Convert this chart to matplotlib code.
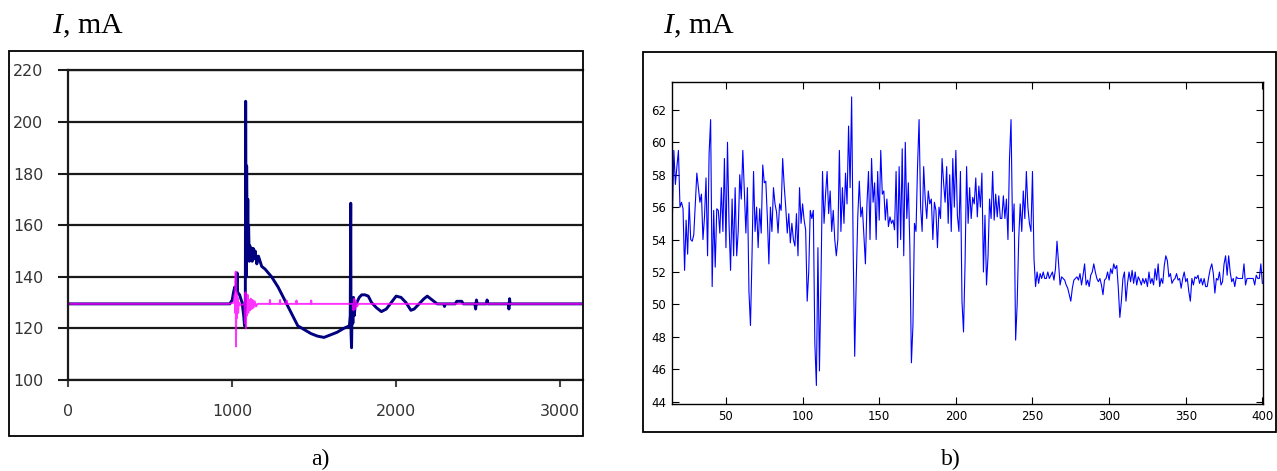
import matplotlib
matplotlib.use("Agg")
import matplotlib.pyplot as plt
from matplotlib.patches import Rectangle
import numpy as np

plt.rcParams['mathtext.fontset'] = 'custom'
plt.rcParams['mathtext.it'] = 'Liberation Serif:italic'
plt.rcParams['mathtext.rm'] = 'Liberation Serif'

# ---------------- data: panel a) ----------------
a_yticks = [100, 120, 140, 160, 180, 200, 220]
a_xticks = [0, 1000, 2000, 3000]

navy_x = [0, 985, 1000, 1008, 1015, 1025, 1030, 1033, 1045, 1060, 1070, 1075, 1080,
          1082, 1085, 1088, 1092, 1095, 1098, 1100, 1104, 1108, 1112, 1116, 1122,
          1128, 1135, 1140, 1150, 1160, 1170, 1180, 1200, 1240, 1280, 1320, 1360,
          1400, 1440, 1480, 1520, 1560, 1600, 1640, 1680, 1715, 1720, 1723, 1725,
          1728, 1732, 1736, 1740, 1745, 1750, 1760, 1775, 1790, 1810, 1830, 1850,
          1880, 1910, 1940, 1970, 2000, 2030, 2060, 2090, 2110, 2140, 2170, 2190,
          2220, 2250, 2290, 2295, 2300, 2360, 2370, 2400, 2410, 2480, 2485, 2490,
          2495, 2550, 2555, 2560, 2685, 2688, 2692, 2695, 3140]
navy_y = [129.5, 129.5, 131, 134, 136, 135, 141.5, 134, 133, 130, 125, 121, 131,
          208, 140, 183, 150, 170, 148, 160, 146, 152, 147, 151, 146,
          151, 147, 150, 145, 148, 146, 144, 143, 140, 136, 131, 126,
          121, 119.5, 118, 117, 116.5, 117.5, 118.5, 120, 121, 125, 168.5, 118,
          112.5, 130, 122, 132, 125, 129, 130, 132, 133, 133, 132.5, 130,
          128, 126.5, 127.5, 130, 132.5, 132, 130, 127, 127.5, 129.5, 131.5, 132.5,
          131, 129.5, 129.5, 128.5, 129.5, 129.5, 130.5, 130.5, 129.5, 129.5, 127.5, 131,
          129.5, 129.5, 131, 129.5, 129.5, 127.5, 131.5, 129.5, 129.5]

mag_x = [0, 980, 1010, 1015, 1018, 1021, 1023, 1026, 1029, 1032, 1036, 1040, 1050,
         1075, 1078, 1081, 1084, 1087, 1090, 1094, 1098, 1103, 1108, 1113, 1118,
         1124, 1130, 1137, 1145, 1155, 1228, 1230, 1232, 1290, 1292, 1294, 1330,
         1332, 1334, 1390, 1392, 1394, 1480, 1482, 1484, 1735, 1740, 1745, 1750,
         1755, 1762, 1770, 3140]
mag_y = [129.5, 129.5, 130, 133, 126, 142, 113, 134, 124, 132, 126, 130, 129,
         129.5, 122, 134, 120, 132, 125, 133, 126, 131, 127, 131.5, 127.5,
         131, 128, 130.5, 128.5, 129.5, 129.5, 131, 129.5, 129.5, 131, 129.5, 129.5,
         130.8, 129.5, 129.5, 130.8, 129.5, 129.5, 130.8, 129.5, 129.5, 127, 131.5, 127.5,
         130.5, 128.5, 129.5, 129.5]

# ---------------- data: panel b) ----------------
b_x_start = 15
b_values = [
    55.2, 59.5, 57.4, 58.5, 59.5, 56.0, 56.3, 55.9, 52.1, 55.2,   # 15-24
    53.1, 56.3, 54.0, 53.9, 54.3, 56.2, 58.1, 57.2, 56.3, 56.8,   # 25-34
    54.0, 55.4, 57.8, 53.0, 59.3, 61.4, 51.1, 55.8, 52.3, 55.9,   # 35-44
    55.8, 54.4, 57.2, 54.5, 59.0, 53.5, 60.0, 55.0, 52.1, 56.5,   # 45-54
    53.0, 57.2, 53.0, 54.5, 58.0, 56.5, 59.5, 57.0, 54.4, 57.2,   # 55-64
    50.8, 48.7, 53.0, 58.2, 54.5, 56.0, 53.5, 55.9, 54.4, 58.6,   # 65-74
    57.5, 57.6, 55.4, 52.5, 56.0, 54.5, 57.2, 56.2, 55.7, 54.4,   # 75-84
    56.2, 55.8, 59.0, 57.3, 56.0, 54.4, 55.6, 53.8, 55.0, 54.0,   # 85-94
    53.6, 55.6, 53.0, 57.2, 55.0, 56.2, 55.2, 54.6, 50.2, 52.0,   # 95-104
    55.8, 55.3, 55.8, 47.6, 45.0, 53.5, 45.9, 51.5, 58.2, 55.0,   # 105-114
    56.8, 58.2, 55.6, 57.0, 54.5, 55.8, 54.0, 53.0, 54.0, 59.5,   # 115-124
    54.5, 57.2, 55.0, 58.1, 56.2, 61.0, 57.2, 62.8, 53.5, 46.8,   # 125-134
    51.5, 55.4, 57.6, 55.4, 56.0, 54.2, 52.5, 56.2, 58.2, 54.0,   # 135-144
    59.0, 56.3, 57.5, 54.0, 58.2, 55.2, 59.5, 56.8, 57.0, 55.2,   # 145-154
    56.5, 54.8, 55.4, 55.0, 55.2, 54.6, 58.2, 53.5, 58.5, 54.0,   # 155-164
    59.6, 53.0, 60.0, 55.3, 57.5, 53.5, 46.4, 48.7, 55.0, 54.5,   # 165-174
    58.5, 61.4, 56.0, 54.5, 58.5, 56.5, 55.3, 57.0, 56.2, 56.5,   # 175-184
    54.0, 56.3, 55.8, 53.5, 56.0, 55.3, 59.0, 57.5, 56.3, 58.5,   # 185-194
    55.0, 58.0, 54.5, 59.0, 56.0, 59.5, 55.5, 54.5, 58.2, 50.2,   # 195-204
    48.3, 52.5, 58.5, 55.0, 57.2, 55.3, 56.6, 56.2, 57.8, 55.4,   # 205-214
    57.3, 56.0, 58.1, 52.0, 55.5, 51.2, 53.0, 56.5, 55.3, 58.2,   # 215-224
    55.2, 56.8, 55.4, 56.7, 55.3, 55.3, 56.7, 55.3, 56.5, 54.0,   # 225-234
    59.0, 61.4, 54.5, 56.2, 47.8, 50.0, 54.0, 56.2, 54.5, 57.0,   # 235-244
    55.3, 58.2, 56.0, 55.0, 54.5, 58.2,                           # 245-250
    52.8, 51.1, 52.0, 51.3, 51.9, 51.6, 52.0, 51.6, 51.6, 52.0,   # 251-260
    51.6, 51.8, 52.0, 51.5, 52.2, 53.9, 52.5, 51.2, 51.7, 51.6,   # 261-270
    51.5, 51.2, 51.0, 50.6, 50.2, 51.0, 51.5, 51.6, 51.7, 51.5,   # 271-280
    51.9, 51.2, 51.8, 52.5, 51.2, 51.5, 51.1, 51.8, 52.0, 52.5,   # 281-290
    52.0, 51.6, 51.4, 51.6, 51.2, 50.6, 51.5, 51.6, 52.0, 51.5,   # 291-300
    52.2, 51.9, 52.5, 52.2, 52.4, 51.0, 49.2, 50.2, 51.6, 52.0,   # 301-310
    50.2, 51.3, 52.0, 51.4, 52.1, 51.3, 52.0, 51.2, 51.7, 51.5,   # 311-320
    51.2, 51.6, 51.3, 51.6, 51.1, 52.0, 51.3, 51.6, 51.2, 52.2,   # 321-330
    51.5, 52.5, 51.1, 51.6, 51.3, 52.4, 53.0, 52.7, 51.7, 51.9,   # 331-340
    51.3, 51.5, 51.6, 51.9, 51.5, 51.6, 51.0, 51.6, 52.0, 51.4,   # 341-350
    51.6, 50.8, 50.2, 51.6, 51.2, 51.7, 51.6, 51.8, 51.3, 51.6,   # 351-360
    51.2, 51.6, 51.1, 51.1, 51.7, 52.2, 52.5, 51.9, 50.7, 51.6,   # 361-370
    51.5, 52.0, 51.2, 51.4, 52.5, 53.0, 51.8, 53.0, 52.0, 51.4,   # 371-380
    51.6, 51.1, 51.7, 51.6, 51.6, 51.6, 51.6, 52.5, 51.2, 51.6,   # 381-390
    51.6, 51.6, 51.6, 51.6, 51.2, 51.8, 51.6, 51.6, 52.5, 51.3,   # 391-400
]
b_x = list(range(b_x_start, b_x_start + len(b_values)))
b_yticks = [44, 46, 48, 50, 52, 54, 56, 58, 60, 62]
b_xticks = [50, 100, 150, 200, 250, 300, 350, 400]

# ---------------- figure ----------------
W, H = 1277, 471
fig = plt.figure(figsize=(W / 100, H / 100), dpi=100)

def fx(px):
    return px / W

def fy(py):
    return 1 - py / H

# outer frames
fig.patches.append(Rectangle((fx(9), fy(436)), fx(583) - fx(9), fy(51) - fy(436),
                             transform=fig.transFigure, fill=False, ec='black', lw=1.3))
fig.patches.append(Rectangle((fx(643.3), fy(431.7)), fx(1275.7) - fx(643.3), fy(51.7) - fy(431.7),
                             transform=fig.transFigure, fill=False, ec='black', lw=1.3))

# ---- panel a ----
axa = fig.add_axes([fx(68.3), fy(380), fx(583) - fx(68.3), fy(70.3) - fy(380)])
axa.set_xlim(0, 3140)
axa.set_ylim(100, 220)
axa.set_yticks(a_yticks)
axa.set_xticks(a_xticks)
axa.yaxis.grid(True, color='#1a1a1a', lw=1.6)
axa.set_axisbelow(True)
for s in ['top', 'right']:
    axa.spines[s].set_visible(False)
axa.spines['left'].set_linewidth(1.6)
axa.spines['bottom'].set_linewidth(1.6)
axa.spines['left'].set_color('#1a1a1a')
axa.spines['bottom'].set_color('#1a1a1a')
axa.tick_params(axis='y', direction='out', length=7, width=1.5, pad=11,
                labelsize=11.4, labelcolor='#333333', color='#1a1a1a')
axa.tick_params(axis='x', direction='out', length=5, width=1.5, pad=12,
                labelsize=11.4, labelcolor='#333333', color='#444444')
axa.plot(navy_x, navy_y, color='#000080', lw=2.1)
axa.plot(mag_x, mag_y, color='#ff00ff', lw=1.4, alpha=0.8)
axa.axhline(220, color='#1a1a1a', lw=1.6, clip_on=False)

# ---- panel b ----
axb = fig.add_axes([fx(671.7), fy(404.3), fx(1263.3) - fx(671.7), fy(82.3) - fy(404.3)])
axb.plot(b_x, b_values, color='#0000ff', lw=0.8)
axb.set_xlim(14.6, 400.6)
axb.set_ylim(43.84, 63.7)
axb.set_yticks(b_yticks)
axb.set_xticks(b_xticks)
for s in axb.spines.values():
    s.set_linewidth(1.0)
axb.tick_params(axis='both', direction='in', length=5, width=0.8,
                top=True, right=True, labelsize=8.5, pad=4)
for lab in axb.get_xticklabels() + axb.get_yticklabels():
    lab.set_family(['Liberation Sans Narrow', 'DejaVu Sans'])

# ---- titles and captions ----
fig.text(fx(52), fy(33), r'$I$, mA', fontsize=21.5, family='Liberation Serif', va='baseline')
fig.text(fx(663), fy(33), r'$I$, mA', fontsize=21.5, family='Liberation Serif', va='baseline')
fig.text(fx(320), fy(465), 'a)', fontsize=17, family='Liberation Serif', va='baseline', ha='center')
fig.text(fx(951), fy(465), 'b)', fontsize=17, family='Liberation Serif', va='baseline', ha='center')

fig.savefig('out.png', dpi=100)
